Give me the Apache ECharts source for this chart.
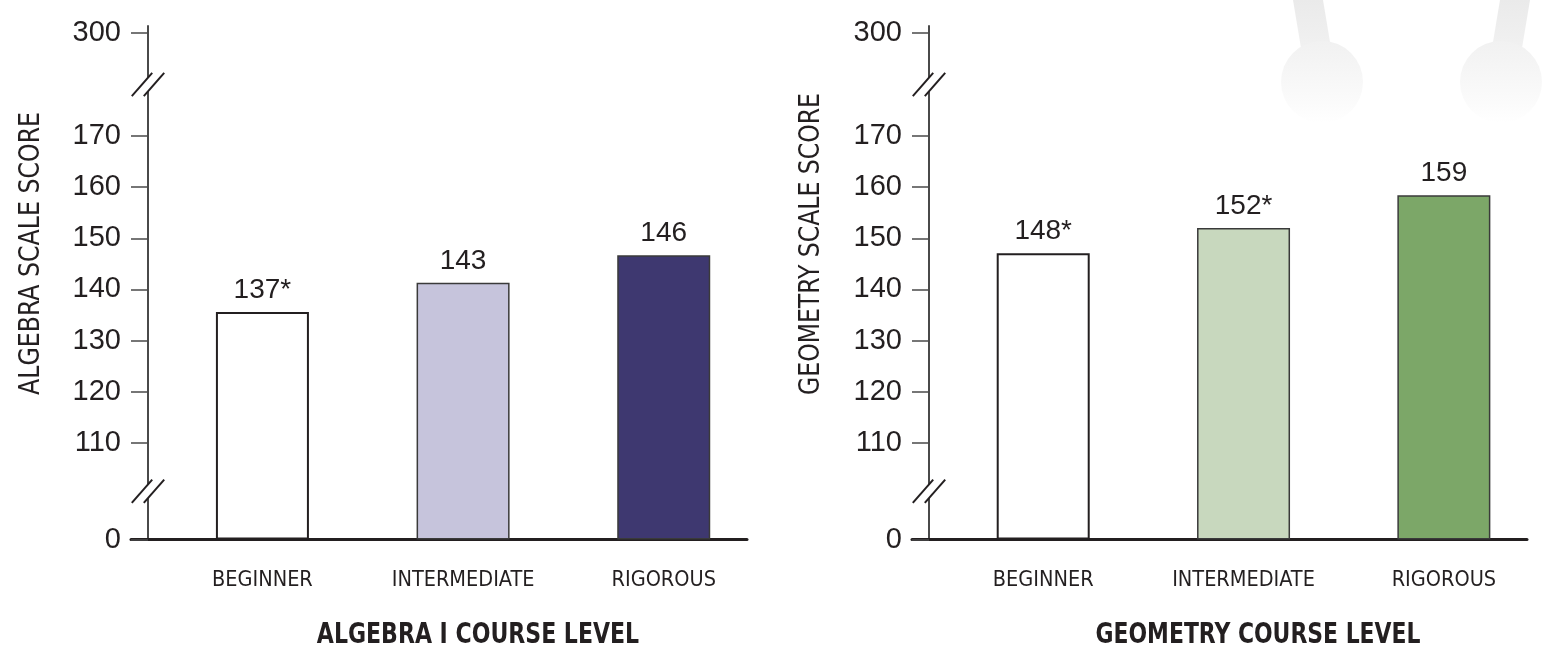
<!DOCTYPE html>
<html>
<head>
<meta charset="utf-8">
<script src="https://cdn.jsdelivr.net/npm/echarts@6/dist/echarts.min.js"></script>
<style>
html,body{margin:0;padding:0;background:#ffffff;}
#chart{width:1548px;height:649px;}
</style>
</head>
<body>
<div id="chart"></div>
<script>
// ---------------- data ----------------
const categories = ['BEGINNER', 'INTERMEDIATE', 'RIGOROUS'];
// bar heights as read against the axis
const algebraBarValues = [135.6, 141.3, 146.7];
const algebraValueLabels = ['137*', '143', '146'];
const geometryBarValues = [147.1, 152.0, 158.4];
const geometryValueLabels = ['148*', '152*', '159'];
const tickScores = [0, 110, 120, 130, 140, 150, 160, 170, 300];
const algebraTitle = 'ALGEBRA I COURSE LEVEL';
const geometryTitle = 'GEOMETRY COURSE LEVEL';
const algebraAxisName = 'ALGEBRA SCALE SCORE';
const geometryAxisName = 'GEOMETRY SCALE SCORE';
// broken-axis scale: score knots and their display positions
const scoreKnots = [0, 110, 170, 300];
const displayKnots = [0, 18.86, 78.86, 98.98];
const breakGaps = [[0, 110], [170, 300]];

// ---------------- style ----------------
const algebraColors = ['#ffffff', '#c6c4dc', '#3e3870'];
const geometryColors = ['#ffffff', '#c8d8be', '#7ca768'];
const ink = '#231f20';
const axisGray = '#4a4a4a';
const numFont = '"Liberation Sans", Arial, sans-serif';
const narrowFont = '"Liberation Sans Narrow", "DejaVu Sans Condensed", sans-serif';
const AXIS_SHIFT = 17;   // y axis sits this far right of the grid edge
const DISPLAY_MAX = 100.35;

function toDisplay(v) {
  for (let i = 0; i < scoreKnots.length - 1; i++) {
    if (v <= scoreKnots[i + 1]) {
      const t = (v - scoreKnots[i]) / (scoreKnots[i + 1] - scoreKnots[i]);
      return displayKnots[i] + t * (displayKnots[i + 1] - displayKnots[i]);
    }
  }
  return displayKnots[displayKnots.length - 1];
}
const tickDisplay = tickScores.map(toDisplay);
function tickLabel(d) {
  for (let i = 0; i < tickDisplay.length; i++) {
    if (Math.abs(tickDisplay[i] - d) < 1e-6) return String(tickScores[i]);
  }
  return '';
}
const breakMids = breakGaps.map(g => (toDisplay(g[0]) + toDisplay(g[1])) / 2);

const chart = echarts.init(document.getElementById('chart'), null, {renderer: 'canvas'});

function makeX(idx) {
  return {
    type: 'value', gridIndex: idx, min: -0.655, max: 2.415,
    splitLine: {show: false},
    axisTick: {show: false},
    axisLine: {show: true, onZero: false, lineStyle: {color: ink, width: 3}},
    axisLabel: {
      customValues: [0, 1, 2],
      formatter: v => categories[Math.round(v)] || '',
      margin: 30, fontFamily: narrowFont, fontSize: 21.5, color: ink
    }
  };
}
function makeY(idx) {
  return {
    type: 'value', gridIndex: idx, min: 0, max: DISPLAY_MAX,
    offset: -AXIS_SHIFT,
    splitLine: {show: false},
    axisLine: {show: true, onZero: false, lineStyle: {color: axisGray, width: 2}},
    axisTick: {show: true, customValues: tickDisplay, length: 17, lineStyle: {color: axisGray, width: 1.5}},
    axisLabel: {
      customValues: tickDisplay, formatter: tickLabel,
      margin: 27, fontFamily: numFont, fontSize: 29, color: ink
    }
  };
}
function barSeries(idx, values, labels, colors) {
  return {
    type: 'bar', xAxisIndex: idx, yAxisIndex: idx, barWidth: 93,
    data: values.map((v, i) => ({
      value: [i, toDisplay(v)],
      itemStyle: {color: colors[i], borderColor: i === 0 ? ink : '#3a3a3a', borderWidth: i === 0 ? 2 : 1.5}
    })),
    label: {
      show: true, position: 'top', distance: 8,
      formatter: p => labels[p.dataIndex],
      fontFamily: numFont, fontSize: 28, color: ink
    },
    silent: true, animation: false
  };
}
function breakSeries(idx) {
  return {
    type: 'custom', xAxisIndex: idx, yAxisIndex: idx, clip: false, z: 10, silent: true, animation: false,
    data: breakMids.map(d => [0, d]),
    renderItem: function (params, api) {
      const y = api.coord([0, api.value(1)])[1];
      const x = params.coordSys.x + AXIS_SHIFT;
      const hx = 10.2, hy = 11.7, off = 6;
      const s1 = [[x - off - hx, y + hy], [x - off + hx, y - hy]];
      const s2 = [[x + off - hx, y + hy], [x + off + hx, y - hy]];
      return {
        type: 'group',
        children: [
          {type: 'polygon', shape: {points: [s1[0], s1[1], s2[1], s2[0]]}, style: {fill: '#ffffff'}},
          {type: 'line', shape: {x1: s1[0][0], y1: s1[0][1], x2: s1[1][0], y2: s1[1][1]}, style: {stroke: ink, lineWidth: 2}},
          {type: 'line', shape: {x1: s2[0][0], y1: s2[0][1], x2: s2[1][0], y2: s2[1][1]}, style: {stroke: ink, lineWidth: 2}}
        ]
      };
    }
  };
}
function textEl(text, x, y, opts) {
  return Object.assign({
    type: 'text', x: x, y: y, silent: true,
    style: Object.assign({
      text: text, fill: ink,
      textAlign: 'center', align: 'center',
      textVerticalAlign: 'middle', verticalAlign: 'middle'
    }, opts.style)
  }, opts.el || {});
}
function ghost(cx, topLeft, lean) {
  // very faint decorative shapes in the top-right corner
  const tl = cx + topLeft;
  return [
    {type: 'polygon', silent: true, z: -10,
      shape: {points: [[tl, 0], [tl + 30, 0], [tl + 30 + lean, 48], [tl + lean, 48]]},
      style: {fill: new echarts.graphic.LinearGradient(0, 0, 0, 1, [{offset: 0, color: '#eaeaea'}, {offset: 1, color: '#f1f1f1'}])}},
    {type: 'circle', silent: true, z: -10,
      shape: {cx: cx, cy: 82, r: 41},
      style: {fill: new echarts.graphic.LinearGradient(0, 0, 0, 1, [{offset: 0, color: '#f1f1f1'}, {offset: 0.75, color: '#fbfbfb'}, {offset: 1, color: '#ffffff'}])}}
  ];
}

const option = {
  backgroundColor: '#ffffff',
  animation: false,
  grid: [
    {left: 131, top: 26, width: 616, bottom: 109.5, outerBoundsMode: 'none', containLabel: false},
    {left: 912, top: 26, width: 615, bottom: 109.5, outerBoundsMode: 'none', containLabel: false}
  ],
  xAxis: [makeX(0), makeX(1)],
  yAxis: [makeY(0), makeY(1)],
  series: [
    barSeries(0, algebraBarValues, algebraValueLabels, algebraColors),
    barSeries(1, geometryBarValues, geometryValueLabels, geometryColors),
    breakSeries(0),
    breakSeries(1)
  ],
  graphic: [].concat(
    ghost(1322, -29, 8), ghost(1501, -1, -8),
    [
      textEl(algebraTitle, 478, 636, {style: {fontFamily: narrowFont, fontWeight: 'bold', fontSize: 28}, el: {scaleX: 0.875}}),
      textEl(geometryTitle, 1258, 636, {style: {fontFamily: narrowFont, fontWeight: 'bold', fontSize: 28}, el: {scaleX: 0.87}}),
      textEl(algebraAxisName, 32, 395, {style: {fontFamily: narrowFont, fontSize: 28, textAlign: 'left', align: 'left'}, el: {rotation: Math.PI / 2, scaleX: 0.94}}),
      textEl(geometryAxisName, 812, 395, {style: {fontFamily: narrowFont, fontSize: 28, textAlign: 'left', align: 'left'}, el: {rotation: Math.PI / 2, scaleX: 0.935}})
    ]
  )
};
chart.setOption(option);
</script>
</body>
</html>
